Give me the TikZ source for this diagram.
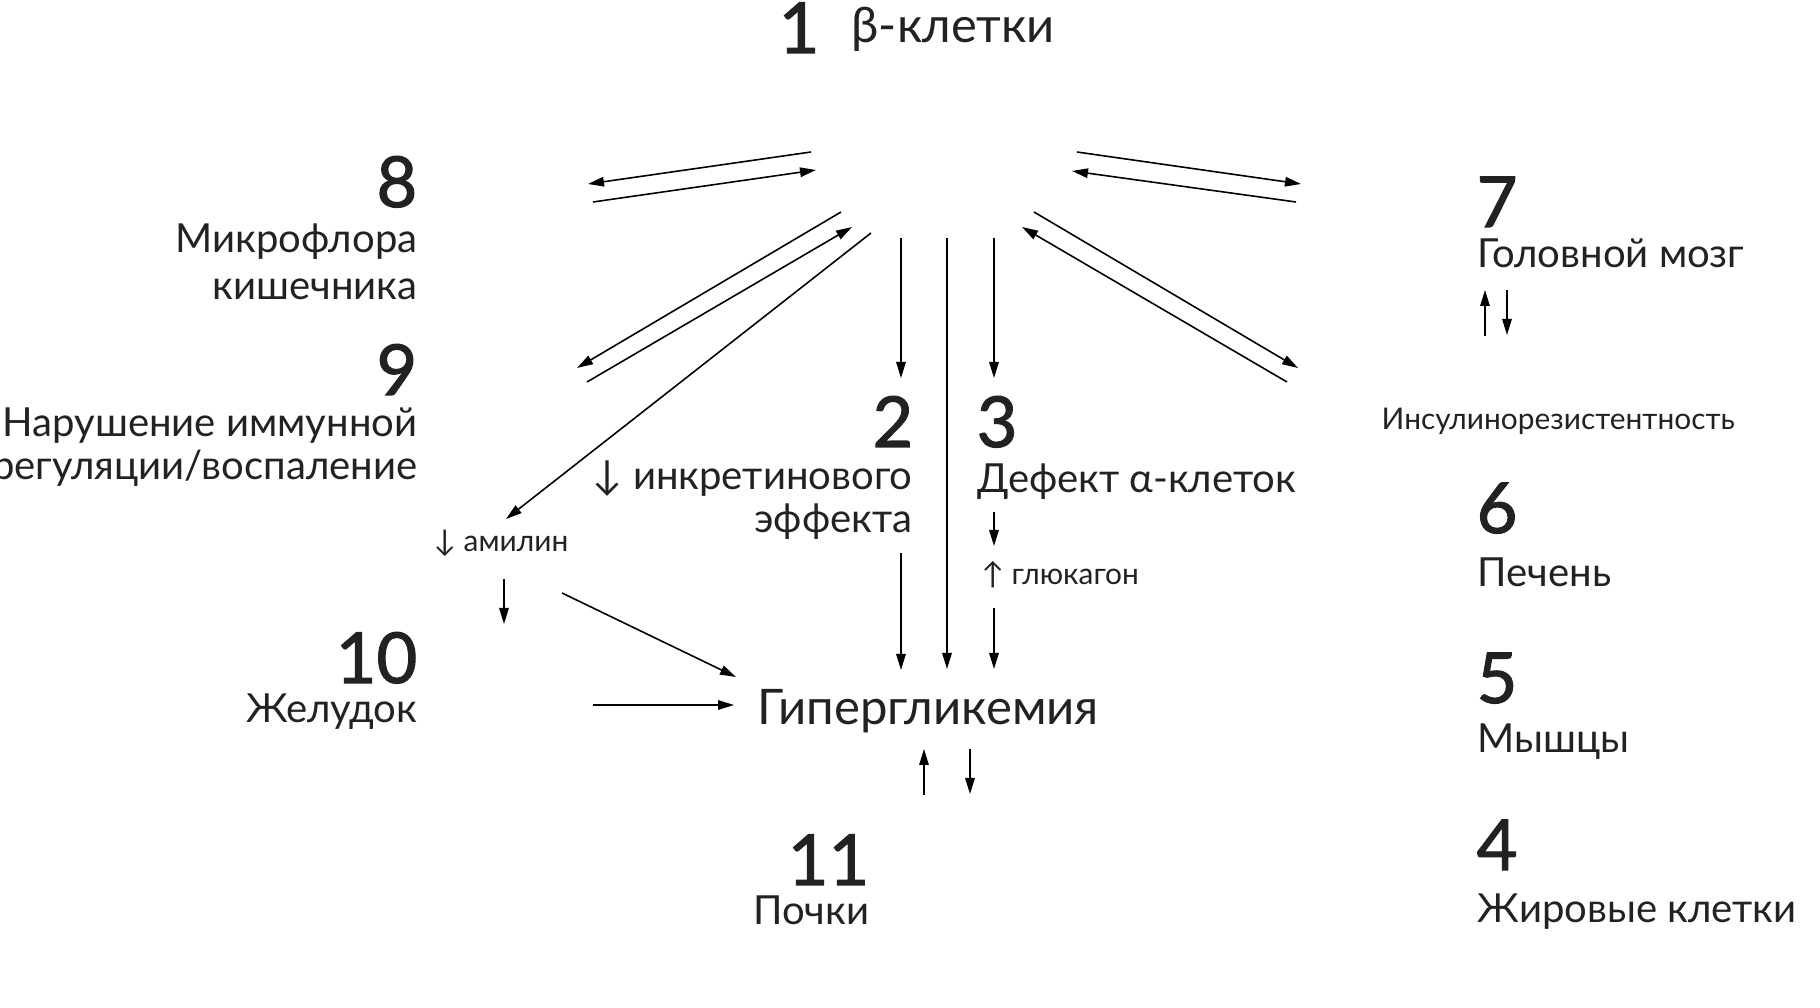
\documentclass[tikz,border=0pt]{standalone}
\usepackage{fontspec}
\setmainfont{Lato}
\newfontfamily\numfont{Lato}[FakeBold=1.6]
\usetikzlibrary{arrows.meta}

\definecolor{ink}{HTML}{222222}

\tikzset{
    num/.style={inner sep=0pt, text=ink, font=\numfont\fontsize{20}{24}\selectfont},
    lbl/.style={inner sep=0pt, text=ink, font=\fontsize{11.4}{13.4}\selectfont},
    title/.style={inner sep=0pt, text=ink, font=\fontsize{13.9}{16}\selectfont},
    hyper/.style={inner sep=0pt, text=ink, font=\fontsize{13.95}{17}\selectfont},
    smalltxt/.style={inner sep=0pt, text=ink, font=\fontsize{8.5}{10}\selectfont},
    arr/.style={-{Triangle[length=1.6mm,width=0.95mm]}, line width=0.45pt}
}

\begin{document}
\begin{tikzpicture}[scale=1]

\useasboundingbox (0,0) rectangle (18.20,-10.08);

% Beta cells
\node[num, anchor=base west] (n1) at (7.78,-0.53) {1};
\node[title, anchor=base west] (beta) at (8.51,-0.43) {β-клетки};

% Left column
\node[num, anchor=base east] (n8) at (4.18,-2.07) {8};
\node[lbl, anchor=base east] (micro) at (4.18,-2.53) {Микрофлора};
\node[lbl, anchor=base east] (micro2) at (4.18,-3.00) {кишечника};
\node[num, anchor=base east] (n9) at (4.18,-3.95) {9};
\node[lbl, anchor=base east] (immun) at (4.18,-4.37) {Нарушение иммунной};
\node[lbl, anchor=base east] (immun2) at (4.18,-4.80) {регуляции/воспаление};
\node[num, anchor=base east] (n10) at (4.18,-6.83) {10};
\node[lbl, anchor=base east] (stomach) at (4.18,-7.23) {Желудок};
\node[smalltxt, anchor=base west] (amylin) at (4.33,-5.52) {↓ амилин};

% Middle
\node[num, anchor=base east] (n2) at (9.14,-4.47) {2};
\node[lbl, anchor=base east] (incr) at (9.13,-4.90) {↓ инкретинового};
\node[lbl, anchor=base east] (incr2) at (9.13,-5.33) {эффекта};
\node[num, anchor=base west] (n3) at (9.76,-4.47) {3};
\node[lbl, anchor=base west] (alpha) at (9.77,-4.93) {Дефект α-клеток};
\node[smalltxt, anchor=base west] (gluc) at (9.81,-5.85) {↑ глюкагон};
\node[hyper, anchor=base west] (hyperg) at (7.57,-7.25) {Гипергликемия};
\node[num, anchor=base east] (n11) at (8.70,-8.85) {11};
\node[lbl, anchor=base east] (kidney) at (8.70,-9.25) {Почки};

% Right column
\node[num, anchor=base west] (n7) at (14.76,-2.27) {7};
\node[lbl, anchor=base west] (brain) at (14.77,-2.68) {Головной мозг};
\node[smalltxt, anchor=base west] (resist) at (13.81,-4.30) {Инсулинорезистентность};
\node[num, anchor=base west] (n6) at (14.76,-5.33) {6};
\node[lbl, anchor=base west] (liver) at (14.77,-5.87) {Печень};
\node[num, anchor=base west] (n5) at (14.76,-7.03) {5};
\node[lbl, anchor=base west] (muscle) at (14.77,-7.53) {Мышцы};
\node[num, anchor=base west] (n4) at (14.76,-8.70) {4};
\node[lbl, anchor=base west] (fat) at (14.77,-9.23) {Жировые клетки};

% Arrow ends
\coordinate (t1a) at (8.11,-1.52);  \coordinate (t1b) at (5.88,-1.84);
\coordinate (t2a) at (5.93,-2.02);  \coordinate (t2b) at (8.16,-1.70);
\coordinate (t3a) at (10.77,-1.52); \coordinate (t3b) at (13.01,-1.84);
\coordinate (t4a) at (12.96,-2.02); \coordinate (t4b) at (10.72,-1.71);
\coordinate (l1a) at (8.41,-2.12);  \coordinate (l1b) at (5.77,-3.68);
\coordinate (l2a) at (5.87,-3.82);  \coordinate (l2b) at (8.52,-2.27);
\coordinate (r1a) at (10.34,-2.12); \coordinate (r1b) at (12.98,-3.68);
\coordinate (r2a) at (12.87,-3.82); \coordinate (r2b) at (10.22,-2.27);
\coordinate (ama) at (8.71,-2.33);  \coordinate (amb) at (5.06,-5.19);
\coordinate (v2a) at (9.01,-2.38);  \coordinate (v2b) at (9.01,-3.78);
\coordinate (vma) at (9.47,-2.38);  \coordinate (vmb) at (9.47,-6.69);
\coordinate (v3a) at (9.94,-2.38);  \coordinate (v3b) at (9.94,-3.78);
\coordinate (i2a) at (9.01,-5.53);  \coordinate (i2b) at (9.01,-6.70);
\coordinate (g1a) at (9.94,-5.12);  \coordinate (g1b) at (9.94,-5.46);
\coordinate (g2a) at (9.94,-6.08);  \coordinate (g2b) at (9.94,-6.69);
\coordinate (a1a) at (5.04,-5.79);  \coordinate (a1b) at (5.04,-6.24);
\coordinate (a2a) at (5.62,-5.93);  \coordinate (a2b) at (7.36,-6.77);
\coordinate (sta) at (5.93,-7.05);  \coordinate (stb) at (7.34,-7.05);
\coordinate (kua) at (9.24,-7.95);  \coordinate (kub) at (9.24,-7.49);
\coordinate (kda) at (9.70,-7.49);  \coordinate (kdb) at (9.70,-7.94);
\coordinate (bua) at (14.85,-3.36); \coordinate (bub) at (14.85,-2.90);
\coordinate (bda) at (15.07,-2.90); \coordinate (bdb) at (15.07,-3.35);

% Arrows
\foreach \a in {t1,t2,t3,t4,l1,l2,r1,r2,am,v2,v3,i2,g1,g2,a1,a2,st,ku,kd,bu,bd}
    \draw[arr] (\a a) -- (\a b);

% Line from beta cells straight down to hyperglycemia
\draw[arr] (vma) -- (vmb);

\end{tikzpicture}
\end{document}
